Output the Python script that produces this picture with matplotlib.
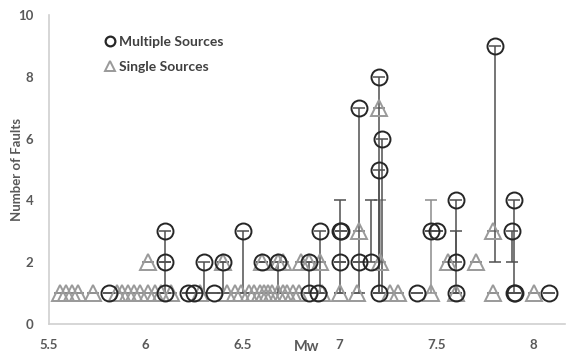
import numpy as np
import matplotlib.pyplot as plt

plt.rcParams['font.family'] = ['Lato', 'DejaVu Sans']

# multiple-source events: magnitude, number of faults, min / max of the range
multi_mw = [5.81, 6.10, 6.10, 6.10, 6.22, 6.25, 6.30, 6.35, 6.40, 6.50,
            6.60, 6.68, 6.84, 6.84, 6.89, 6.90, 7.00, 7.005, 7.00, 7.10,
            7.10, 7.16, 7.20, 7.22, 7.20, 7.20, 7.40, 7.47, 7.50, 7.60,
            7.60, 7.60, 7.80, 7.90, 7.89, 7.90, 7.905, 8.08]
multi_n = [1, 3, 2, 1, 1, 1, 2, 1, 2, 3,
           2, 2, 2, 1, 1, 3, 3, 3, 2, 7,
           2, 2, 8, 6, 5, 1, 1, 3, 3, 4,
           2, 1, 9, 4, 3, 1, 1, 1]
multi_lo = [1, 1, 2, 1, 1, 1, 1, 1, 1, 1,
            2, 1, 1, 1, 1, 1, 1, 3, 2, 1,
            2, 2, 1, 1, 1, 1, 1, 3, 3, 1,
            2, 1, 2, 1, 2, 1, 1, 1]
multi_hi = [1, 3, 2, 1, 1, 1, 2, 1, 2, 3,
            2, 2, 2, 1, 1, 3, 4, 3, 2, 7,
            2, 4, 8, 6, 5, 1, 1, 3, 3, 4,
            3, 1, 9, 4, 3, 1, 1, 1]

# single-source events
single_mw = [5.56, 5.59, 5.62, 5.65, 5.73, 5.85, 5.88, 5.91, 5.94, 5.97,
             6.01, 6.05, 6.08, 6.13, 6.28, 6.42, 6.46, 6.49, 6.53, 6.56,
             6.59, 6.61, 6.63, 6.65, 6.68, 6.71, 6.73, 6.76, 6.79, 6.91,
             7.00, 7.09, 7.26, 7.30, 7.47, 7.60, 7.79, 8.00,
             6.01, 6.40, 6.60, 6.68, 6.71, 6.80, 6.84, 6.90, 7.21, 7.56,
             7.70, 7.10, 7.79, 7.20]
single_n = [1] * 38 + [2] * 11 + [3, 3, 7]
single_lo = list(single_n)
single_hi = list(single_n)
single_hi[34] = 4   # 7.47 event
single_hi[46] = 4   # 7.21 event

fig = plt.figure(figsize=(5.67, 3.55), dpi=100)
ax = fig.add_axes([0.086, 0.087, 0.91, 0.871])

mn = np.array(multi_n)
sn = np.array(single_n)
ax.errorbar(single_mw, sn, yerr=[sn - np.array(single_lo), np.array(single_hi) - sn],
            fmt='none', ecolor='#8c8c8c', elinewidth=1.1, capsize=4, capthick=1.1, zorder=2)
ax.errorbar(multi_mw, mn, yerr=[mn - np.array(multi_lo), np.array(multi_hi) - mn],
            fmt='none', ecolor='#505050', elinewidth=1.1, capsize=4, capthick=1.1, zorder=3)
ax.plot(single_mw, single_n, linestyle='none', marker='^', markersize=11,
        markerfacecolor='none', markeredgecolor='#9a9a9a', markeredgewidth=1.4, zorder=4)
ax.plot(multi_mw, multi_n, linestyle='none', marker='o', markersize=11.5,
        markerfacecolor='none', markeredgecolor='#262626', markeredgewidth=1.4, zorder=5)

h1 = ax.plot([], [], linestyle='none', marker='o', markersize=7, markerfacecolor='none',
             markeredgecolor='#262626', markeredgewidth=1.6)[0]
h2 = ax.plot([], [], linestyle='none', marker='^', markersize=7, markerfacecolor='none',
             markeredgecolor='#9a9a9a', markeredgewidth=1.4)[0]
leg = ax.legend([h1, h2], ['Multiple Sources', 'Single Sources'], loc='upper left',
                bbox_to_anchor=(0.1, 0.95), frameon=False, handlelength=0.6,
                handletextpad=0.35, labelspacing=0.95, borderaxespad=0,
                prop={'size': 10, 'weight': 'bold'})
for t in leg.get_texts():
    t.set_color('#404040')

ax.set_xlim(5.5, 8.16)
ax.set_ylim(0, 10)
ax.set_xticks([5.5, 6, 6.5, 7, 7.5, 8])
ax.set_xticklabels(['5.5', '6', '6.5', '7', '7.5', '8'])
ax.set_yticks([0, 2, 4, 6, 8, 10])
ax.tick_params(length=0, labelsize=9.5, labelcolor='#595959', pad=11)
for lab in ax.get_xticklabels() + ax.get_yticklabels():
    lab.set_fontweight('bold')

for side in ['top', 'right']:
    ax.spines[side].set_visible(False)
for side in ['left', 'bottom']:
    ax.spines[side].set_color('#d0d0d0')
    ax.spines[side].set_linewidth(1.2)

ax.set_xlabel('Mw', fontsize=10.5, fontweight='bold', color='#595959')
ax.xaxis.set_label_coords(0.5, -0.052)
ax.set_ylabel('Number of Faults', fontsize=9.5, fontweight='bold', color='#595959')
ax.yaxis.set_label_coords(-0.05, 0.5)

fig.savefig('out.png', dpi=100)
